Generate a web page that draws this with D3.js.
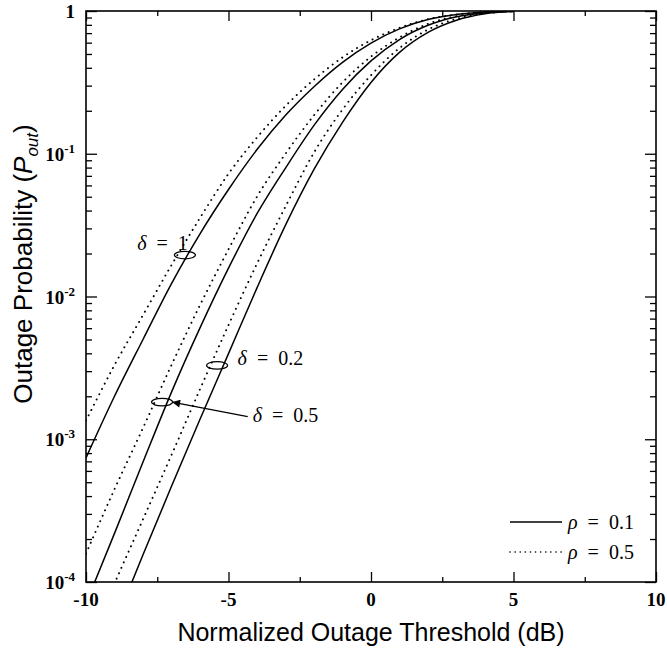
<!DOCTYPE html>
<html>
<head>
<meta charset="utf-8">
<script src="https://cdn.jsdelivr.net/npm/d3@7"></script>
<style>
  body { margin: 0; background: #fff; }
  .tick line { stroke: #000; stroke-width: 1.3; }
  .domain { display: none; }
</style>
</head>
<body>
<svg id="chart" width="667" height="651"></svg>
<script>
// threshold in dB, one reading per dB
var thresholdDb = [-10, -9, -8, -7, -6, -5, -4, -3, -2, -1, 0, 1, 2, 3, 4, 5];

// outage probability
var d1Rho01 = [7.41e-4, 2.0e-3, 5.0e-3, 0.0123, 0.0275, 0.0562, 0.107, 0.186, 0.295, 0.437, 0.596, 0.750, 0.871, 0.944, 0.984, 0.999];
var d1Rho05 = [1.35e-3, 3.31e-3, 7.41e-3, 0.0166, 0.0355, 0.0724, 0.130, 0.216, 0.331, 0.473, 0.624, 0.762, 0.876, 0.946, 0.984, 0.999];
var d05Rho01 = [7.08e-5, 2.19e-4, 6.92e-4, 2.14e-3, 6.03e-3, 0.0158, 0.038, 0.0794, 0.158, 0.282, 0.447, 0.631, 0.794, 0.912, 0.973, 0.998];
var d05Rho05 = [1.58e-4, 4.47e-4, 1.20e-3, 3.31e-3, 8.71e-3, 0.0214, 0.0501, 0.100, 0.186, 0.316, 0.479, 0.653, 0.813, 0.920, 0.977, 0.998];
var d02Rho01 = [1.58e-5, 5.01e-5, 1.55e-4, 4.68e-4, 1.38e-3, 3.98e-3, 0.0115, 0.0316, 0.0776, 0.166, 0.316, 0.513, 0.708, 0.861, 0.955, 0.993];
var d02Rho05 = [3.39e-5, 9.77e-5, 2.75e-4, 7.76e-4, 2.24e-3, 6.31e-3, 0.0170, 0.0427, 0.102, 0.204, 0.355, 0.550, 0.741, 0.881, 0.962, 0.995];

var xMajor = [-10, -5, 0, 5, 10];
var xMinor = [-7.5, -2.5, 2.5, 7.5];
var yExponents = [0, -1, -2, -3, -4];

// annotation anchors, in data units
var deltaNames = ['1', '0.2', '0.5'];
var ellipseDb = [-6.53, -5.40, -7.33];
var ellipseP = [0.0195, 0.00329, 0.00182];
var labelDb = [-8.2, -4.68, -4.15];
var labelP = [0.0212, 0.0033, 0.00133];

var svg = d3.select('#chart');
var serif = '"Liberation Serif", "Times New Roman", serif';
var sans = '"Liberation Sans", Arial, sans-serif';
var wide = '\u2002'; // the reference spaces the "=" out

var plotL = 86, plotR = 656, plotT = 11, plotB = 582;

var sx = d3.scaleLinear().domain([-10, 10]).range([plotL, plotR]);
var sy = d3.scaleLog().domain([1e-4, 1]).range([plotB, plotT]);

var yMinor = [];
yExponents.slice(1).forEach(function(e) {
  for (var k = 2; k <= 9; k++) yMinor.push(k * Math.pow(10, e));
});
var yMajor = yExponents.map(function(e) { return Math.pow(10, e); });

// ticks on all four sides, pointing inwards
function addAxis(axisFn, scale, values, size, transform) {
  svg.append('g')
    .attr('transform', transform)
    .call(axisFn(scale).tickValues(values).tickSize(-size).tickSizeOuter(0).tickFormat(''));
}
addAxis(d3.axisBottom, sx, xMajor, 10, 'translate(0,' + plotB + ')');
addAxis(d3.axisBottom, sx, xMinor, 5, 'translate(0,' + plotB + ')');
addAxis(d3.axisTop, sx, xMajor, 10, 'translate(0,' + plotT + ')');
addAxis(d3.axisTop, sx, xMinor, 5, 'translate(0,' + plotT + ')');
addAxis(d3.axisLeft, sy, yMajor, 11, 'translate(' + plotL + ',0)');
addAxis(d3.axisLeft, sy, yMinor, 6, 'translate(' + plotL + ',0)');
addAxis(d3.axisRight, sy, yMajor, 11, 'translate(' + plotR + ',0)');
addAxis(d3.axisRight, sy, yMinor, 6, 'translate(' + plotR + ',0)');

svg.append('rect')
  .attr('x', plotL).attr('y', plotT)
  .attr('width', plotR - plotL).attr('height', plotB - plotT)
  .attr('fill', 'none').attr('stroke', '#000').attr('stroke-width', 1.6);

// tick labels
svg.selectAll('.xlab').data(xMajor).enter().append('text')
  .attr('class', 'xlab')
  .attr('x', function(d) { return sx(d); })
  .attr('y', plotB + 24)
  .attr('text-anchor', 'middle')
  .style('font', 'bold 19px ' + serif)
  .text(function(d) { return d; });

yExponents.forEach(function(e) {
  var t = svg.append('text')
    .attr('x', plotL - 11)
    .attr('y', sy(Math.pow(10, e)) + 7)
    .attr('text-anchor', 'end')
    .style('font', 'bold 19px ' + serif);
  if (e === 0) {
    t.text('1');
  } else {
    t.append('tspan').text('10');
    t.append('tspan').attr('dy', -8).style('font-size', '13px').text(e);
  }
});

// axis titles
svg.append('text')
  .attr('x', (plotL + plotR) / 2)
  .attr('y', 641)
  .attr('text-anchor', 'middle')
  .style('font', '25px ' + sans)
  .text('Normalized Outage Threshold (dB)');

var yt = svg.append('text')
  .attr('transform', 'translate(32,' + 264 + ') rotate(-90)')
  .attr('text-anchor', 'middle')
  .style('font', '26px ' + sans);
yt.append('tspan').text('Outage Probability (');
yt.append('tspan').style('font-style', 'italic').text('P');
yt.append('tspan').style('font-style', 'italic').style('font-size', '17px').attr('dy', 6).text('out');
yt.append('tspan').attr('dy', -6).text(')');

// curves
svg.append('clipPath').attr('id', 'plotclip')
  .append('rect')
  .attr('x', plotL).attr('y', plotT)
  .attr('width', plotR - plotL).attr('height', plotB - plotT);

var line = d3.line()
  .x(function(d, i) { return sx(thresholdDb[i]); })
  .y(function(d) { return sy(d); })
  .curve(d3.curveMonotoneX);

var series = [
  { values: d1Rho01, dotted: false },
  { values: d1Rho05, dotted: true },
  { values: d05Rho01, dotted: false },
  { values: d05Rho05, dotted: true },
  { values: d02Rho01, dotted: false },
  { values: d02Rho05, dotted: true }
];

var plot = svg.append('g').attr('clip-path', 'url(#plotclip)');
series.forEach(function(s) {
  plot.append('path')
    .attr('d', line(s.values))
    .attr('fill', 'none')
    .attr('stroke', '#000')
    .attr('stroke-width', s.dotted ? 1.9 : 1.5)
    .attr('stroke-linecap', s.dotted ? 'round' : 'butt')
    .attr('stroke-dasharray', s.dotted ? '0.1,5.8' : null);
});

// delta annotations
svg.append('defs').append('marker')
  .attr('id', 'arrowhead')
  .attr('viewBox', '0 0 10 10')
  .attr('refX', 10).attr('refY', 5)
  .attr('markerWidth', 16).attr('markerHeight', 8)
  .attr('markerUnits', 'userSpaceOnUse')
  .attr('orient', 'auto')
  .append('path').attr('d', 'M0,0L10,5L0,10z').attr('fill', '#000');

deltaNames.forEach(function(name, i) {
  svg.append('ellipse')
    .attr('cx', sx(ellipseDb[i]))
    .attr('cy', sy(ellipseP[i]))
    .attr('rx', 10.5).attr('ry', 3.8)
    .attr('fill', 'none').attr('stroke', '#000').attr('stroke-width', 1.2);
  var t = svg.append('text')
    .attr('x', sx(labelDb[i]))
    .attr('y', sy(labelP[i]))
    .style('font', '20px ' + serif);
  t.append('tspan').style('font-style', 'italic').text('\u03b4');
  t.append('tspan').text(wide + '=' + wide + name);
});

// arrow from the δ = 0.5 label to its ellipse
svg.append('line')
  .attr('x1', sx(labelDb[2]) - 5)
  .attr('y1', sy(labelP[2]) - 5)
  .attr('x2', sx(ellipseDb[2]) + 10)
  .attr('y2', sy(ellipseP[2]))
  .attr('stroke', '#000').attr('stroke-width', 1.2)
  .attr('marker-end', 'url(#arrowhead)');

// legend
var legend = [
  { name: '0.1', dotted: false },
  { name: '0.5', dotted: true }
];
legend.forEach(function(l, i) {
  var ly = 522 + i * 30;
  svg.append('line')
    .attr('x1', 510).attr('x2', 562)
    .attr('y1', ly).attr('y2', ly)
    .attr('stroke', '#000')
    .attr('stroke-width', l.dotted ? 1.6 : 1.4)
    .attr('stroke-linecap', l.dotted ? 'round' : 'butt')
    .attr('stroke-dasharray', l.dotted ? '0.1,5' : null);
  var t = svg.append('text')
    .attr('x', 568).attr('y', ly + 7)
    .style('font', '20px ' + serif);
  t.append('tspan').style('font-style', 'italic').text('\u03c1');
  t.append('tspan').text(wide + '=' + wide + l.name);
});
</script>
</body>
</html>
